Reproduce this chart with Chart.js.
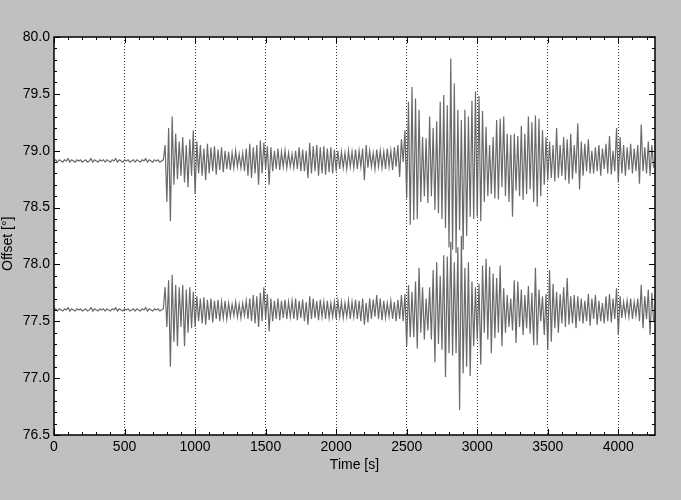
<!DOCTYPE html>
<html>
<head>
<meta charset="utf-8">
<script src="https://cdn.jsdelivr.net/npm/chart.js@4.4.1/dist/chart.umd.min.js"></script>
<style>
  html, body { margin: 0; padding: 0; background: #c0c0c0; }
  #wrap { width: 681px; height: 500px; }
</style>
</head>
<body>
<div id="wrap"><canvas id="seisChart" width="681" height="500"></canvas></div>
<script>
// sample spacing of both traces (s)
var dt = 12.5;

// upper trace, offset in degrees, one value every dt seconds from 0 s
var topTrace = [
  78.91,78.92,78.90,78.92,78.91,78.90,78.92,78.91,78.93,78.90,
  78.92,78.91,78.90,78.92,78.91,78.92,78.90,78.91,78.92,78.90,
  78.91,78.93,78.90,78.92,78.91,78.90,78.92,78.91,78.92,78.90,
  78.92,78.91,78.90,78.92,78.91,78.93,78.90,78.92,78.91,78.90,
  78.92,78.91,78.92,78.90,78.91,78.92,78.90,78.92,78.91,78.90,
  78.92,78.91,78.93,78.90,78.92,78.91,78.90,78.92,78.91,78.92,
  78.90,78.91,78.92,
  79.05,78.55,79.20,78.38,79.30,78.70,79.15,78.75,79.08,78.78,79.12,78.72,79.05,78.68,79.10,78.78,79.18,78.62,
  79.08,78.80,79.05,78.78,79.02,78.74,79.06,78.80,79.03,78.82,79.04,78.79,79.01,78.83,79.03,78.81,79.00,78.84,78.99,78.83,
  78.98,78.85,79.00,78.86,78.97,78.85,78.98,78.82,79.02,78.78,79.06,78.76,79.03,78.80,79.05,78.70,79.09,78.80,79.07,78.84,
  79.04,78.70,79.03,78.82,79.00,78.84,79.02,78.83,78.99,78.86,79.00,78.85,78.98,78.86,78.97,78.85,79.00,78.84,79.03,78.82,
  79.01,78.82,79.00,78.76,79.07,78.80,79.04,78.82,79.05,78.78,79.03,78.80,79.04,78.79,79.02,78.81,79.03,78.80,79.01,78.82,
  79.00,78.84,78.99,78.85,78.98,78.84,79.00,78.86,78.99,78.85,79.01,78.84,79.00,78.86,79.02,78.74,79.05,78.85,79.00,78.86,
  78.98,78.84,79.01,78.86,79.00,78.85,78.99,78.84,79.02,78.86,79.00,78.83,79.03,78.86,79.05,78.77,79.10,78.90,79.18,78.58,
  79.43,78.35,79.56,78.39,79.46,78.40,79.36,78.55,79.12,78.60,79.11,78.54,79.30,78.60,79.20,78.48,79.26,78.45,79.43,78.40,
  79.49,78.32,79.40,78.15,79.81,78.13,79.59,78.10,79.36,78.30,79.27,78.13,79.36,78.25,79.30,78.42,79.44,78.40,79.52,78.42,
  79.48,78.38,79.35,78.55,79.21,78.60,79.05,78.62,79.12,78.58,79.27,78.57,79.28,78.68,79.30,78.60,79.15,78.55,79.14,78.42,
  79.15,78.65,79.13,78.60,79.22,78.57,79.15,78.62,79.30,78.66,79.25,78.55,79.31,78.51,79.28,78.60,79.18,78.70,79.12,78.74,
  79.08,78.76,79.05,78.73,79.20,78.76,79.05,78.78,79.12,78.74,79.10,78.71,79.15,78.75,79.05,78.80,79.24,78.66,79.08,78.78,
  79.06,78.82,79.10,78.80,79.00,78.80,79.03,78.82,79.05,78.78,79.02,78.84,79.06,78.80,79.13,78.79,79.00,78.82,79.20,78.72,
  79.12,78.80,79.05,78.78,79.03,78.83,79.06,78.80,79.02,78.82,79.05,78.71,79.23,78.82,79.03,78.80,79.08,78.78,79.05,78.85
];

// lower trace
var bottomTrace = [
  77.60,77.61,77.59,77.61,77.60,77.59,77.61,77.60,77.62,77.59,
  77.61,77.60,77.59,77.61,77.60,77.61,77.59,77.60,77.61,77.59,
  77.60,77.62,77.59,77.61,77.60,77.59,77.61,77.60,77.61,77.59,
  77.61,77.60,77.59,77.61,77.60,77.62,77.59,77.61,77.60,77.59,
  77.61,77.60,77.61,77.59,77.60,77.61,77.59,77.61,77.60,77.59,
  77.61,77.60,77.62,77.59,77.61,77.60,77.59,77.61,77.60,77.61,
  77.59,77.60,77.61,
  77.80,77.45,77.86,77.10,77.91,77.32,77.82,77.28,77.80,77.45,77.82,77.28,77.78,77.40,77.80,77.44,77.76,77.45,
  77.72,77.50,77.70,77.48,77.71,77.47,77.69,77.51,77.70,77.49,77.68,77.52,77.69,77.50,77.67,77.53,77.68,77.52,77.66,77.54,
  77.65,77.55,77.67,77.54,77.65,77.53,77.66,77.55,77.68,77.52,77.70,77.50,77.73,77.48,77.72,77.45,77.75,77.50,77.80,77.52,
  77.74,77.41,77.70,77.50,77.68,77.52,77.70,77.51,77.68,77.53,77.69,77.52,77.67,77.54,77.68,77.52,77.70,77.51,77.68,77.53,
  77.69,77.50,77.67,77.47,77.72,77.52,77.70,77.53,77.68,77.51,77.69,77.54,77.67,77.52,77.68,77.53,77.66,77.54,77.67,77.52,
  77.68,77.54,77.67,77.53,77.66,77.54,77.68,77.52,77.67,77.54,77.69,77.52,77.68,77.50,77.70,77.47,77.66,77.49,77.70,77.52,
  77.69,77.54,77.73,77.52,77.70,77.51,77.68,77.53,77.66,77.54,77.68,77.52,77.67,77.50,77.69,77.52,77.73,77.50,77.74,77.28,
  77.82,77.36,77.76,77.36,77.85,77.26,77.97,77.40,77.80,77.34,77.70,77.42,77.80,77.34,77.95,77.14,78.02,77.30,77.90,77.25,
  78.08,77.01,78.07,77.22,78.20,77.20,78.02,77.22,78.15,76.72,78.25,77.04,77.97,77.10,78.02,77.02,77.85,77.28,77.80,77.34,
  77.83,77.12,77.99,77.40,78.05,77.34,77.98,77.22,77.92,77.35,77.88,77.40,77.99,77.28,77.79,77.40,77.73,77.45,77.70,77.42,
  77.86,77.31,77.85,77.45,77.78,77.38,77.73,77.44,77.81,77.39,77.75,77.29,77.97,77.29,77.78,77.50,77.72,77.38,77.74,77.25,
  77.95,77.32,77.83,77.44,77.76,77.40,77.74,77.48,77.80,77.45,77.88,77.47,77.72,77.48,77.73,77.44,77.72,77.50,77.70,77.48,
  77.68,77.50,77.74,77.46,77.70,77.52,77.73,77.47,77.68,77.50,77.66,77.48,77.72,77.50,77.74,77.49,77.70,77.52,77.79,77.38,
  77.72,77.53,77.67,77.55,77.68,77.54,77.70,77.52,77.67,77.55,77.70,77.50,77.82,77.44,77.72,77.52,77.78,77.38,77.75,77.50
];

// axis ranges and tick labels
var xRange = [0, 4260];
var yRange = [76.5, 80.0];
var xTicks = [0, 500, 1000, 1500, 2000, 2500, 3000, 3500, 4000];
var yTicks = [76.5, 77.0, 77.5, 78.0, 78.5, 79.0, 79.5, 80.0];
var xMinor = 100, yMinor = 0.1;

function toPoints(vals) {
  return vals.map(function (v, i) { return { x: i * dt, y: v }; });
}

function setTicks(values) {
  return function (s) { s.ticks = values.map(function (v) { return { value: v }; }); };
}

// grey page, white plot area, black frame with inward ticks on all sides
var framePlugin = {
  id: 'frame',
  beforeDraw: function (chart) {
    var ctx = chart.ctx, a = chart.chartArea;
    ctx.save();
    ctx.fillStyle = '#c0c0c0';
    ctx.fillRect(0, 0, chart.width, chart.height);
    ctx.fillStyle = '#ffffff';
    ctx.fillRect(a.left, a.top, a.right - a.left, a.bottom - a.top);
    ctx.restore();
  },
  afterDatasetsDraw: function (chart) {
    var ctx = chart.ctx, a = chart.chartArea;
    var xs = chart.scales.x, ys = chart.scales.y;
    ctx.save();
    ctx.strokeStyle = '#000';
    ctx.lineWidth = 1;
    ctx.beginPath();
    var k, v, p, len;
    for (k = 0; k * xMinor <= xRange[1]; k++) {
      v = k * xMinor;
      p = Math.round(xs.getPixelForValue(v)) + 0.5;
      len = (k % 5 === 0) ? 6 : 3;
      ctx.moveTo(p, a.bottom); ctx.lineTo(p, a.bottom - len);
      ctx.moveTo(p, a.top); ctx.lineTo(p, a.top + len);
    }
    for (k = 0; k <= 35; k++) {
      v = yRange[0] + k * yMinor;
      p = Math.round(ys.getPixelForValue(v)) + 0.5;
      len = (k % 5 === 0) ? 6 : 3;
      ctx.moveTo(a.left, p); ctx.lineTo(a.left + len, p);
      ctx.moveTo(a.right, p); ctx.lineTo(a.right - len, p);
    }
    ctx.stroke();
    ctx.lineWidth = 1.5;
    ctx.strokeRect(a.left, a.top, a.right - a.left, a.bottom - a.top);
    ctx.restore();
  }
};

var ctx = document.getElementById('seisChart').getContext('2d');
var seisChart = new Chart(ctx, {
  type: 'line',
  data: {
    datasets: [{
      data: toPoints(topTrace),
      borderColor: 'rgba(90,90,90,0.9)',
      borderWidth: 1.2,
      pointRadius: 0,
      tension: 0
    }, {
      data: toPoints(bottomTrace),
      borderColor: 'rgba(90,90,90,0.9)',
      borderWidth: 1.2,
      pointRadius: 0,
      tension: 0
    }]
  },
  options: {
    responsive: false,
    animation: false,
    events: [],
    layout: { padding: { left: 0, top: 37, right: 26, bottom: 0 } },
    plugins: { legend: { display: false }, tooltip: { enabled: false } },
    scales: {
      x: {
        type: 'linear',
        min: xRange[0],
        max: xRange[1],
        afterBuildTicks: setTicks(xTicks),
        afterFit: function (s) { s.height = 65; },
        ticks: {
          autoSkip: false,
          maxRotation: 0,
          padding: 4,
          color: '#000',
          font: { family: 'Liberation Sans', size: 14 },
          callback: function (v) { return String(v); }
        },
        grid: {
          drawTicks: false,
          color: function (c) { return c.tick && c.tick.value === 0 ? 'rgba(0,0,0,0)' : '#333'; },
          lineWidth: 1
        },
        border: { display: false, dash: [1, 2] },
        title: {
          display: true,
          text: 'Time [s]',
          color: '#000',
          font: { family: 'Liberation Sans', size: 14 },
          padding: { top: 0, bottom: 26 }
        }
      },
      y: {
        min: yRange[0],
        max: yRange[1],
        afterBuildTicks: setTicks(yTicks),
        afterFit: function (s) { s.width = 54; },
        ticks: {
          autoSkip: false,
          padding: 4,
          color: '#000',
          font: { family: 'Liberation Sans', size: 14 },
          callback: function (v) { return v.toFixed(1); }
        },
        grid: { display: false, drawTicks: false },
        border: { display: false },
        title: {
          display: true,
          // trailing spaces push the visible text a little below the middle, as in the original
          text: 'Offset [°]\u00a0\u00a0\u00a0\u00a0',
          color: '#000',
          font: { family: 'Liberation Sans', size: 14 },
          padding: { top: 0, bottom: 0 }
        }
      }
    }
  },
  plugins: [framePlugin]
});
</script>
</body>
</html>
